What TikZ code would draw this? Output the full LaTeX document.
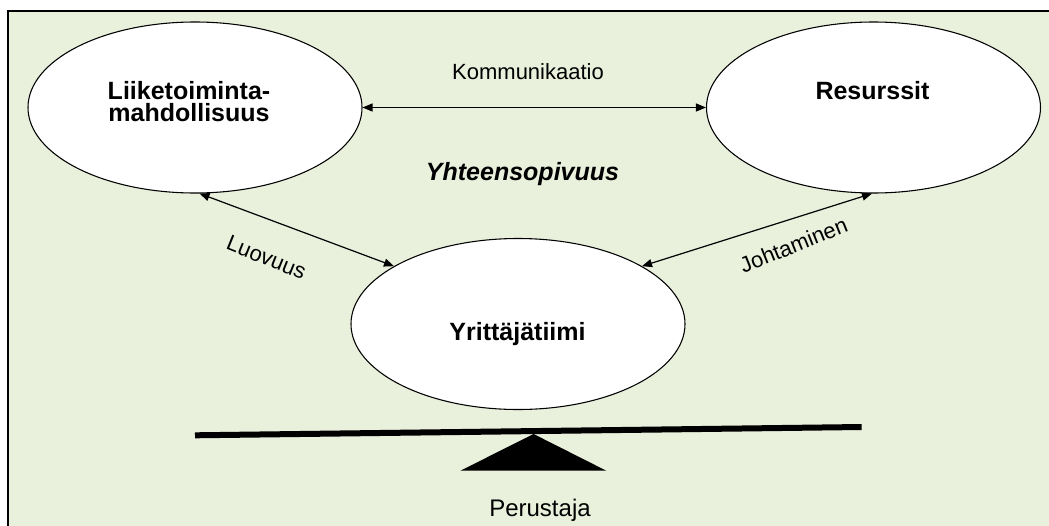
\documentclass[tikz,border=0pt]{standalone}
\usepackage{fontspec}
\setmainfont{Liberation Sans}
\usetikzlibrary{shapes.geometric,arrows.meta}
\definecolor{panel}{RGB}{233,240,220}
\begin{document}
\begin{tikzpicture}[x=0.75pt,y=-0.75pt,
  bubble/.style={ellipse,draw=black,line width=0.8pt,fill=white,
    minimum width=250.5pt,minimum height=128.25pt,inner sep=0pt},
  title/.style={font=\fontsize{18.75}{16.5}\selectfont\bfseries,align=center,anchor=base,inner sep=0pt},
  caption/.style={font=\fontsize{16.5}{19}\selectfont,inner sep=0pt},
  link/.style={line width=0.9pt,{Triangle[length=7.5pt,width=6pt]}-{Triangle[length=7.5pt,width=6pt]}}
]
\useasboundingbox (0,0) rectangle (1049,525);
\clip (0,0) rectangle (1049,525);
% framed panel
\draw[line width=1.5pt,fill=panel] (8,11) rectangle (1060,540);

% the three bubbles
\node[bubble] (L) at (195,107.5) {};
\node[bubble] (R) at (873.5,107.5) {};
\node[bubble] (Y) at (518,324) {};

\node[title] (Lt1) at (189,99.5) {Liiketoiminta-};
\node[title] (Lt2) at (189,121.7) {mahdollisuus};
\node[title] (Rt) at (872.5,99) {Resurssit};
\node[title] (Yt) at (517.5,340) {Yrittäjätiimi};

% connectors
\draw[link] (L.east) -- (R.west);
\draw[link] (L.273) -- (Y.155);
\draw[link] (R.269) -- (Y.25);

% connector captions
\node[caption,anchor=base] (kom) at (528,79.3) {Kommunikaatio};
\node[caption] (luo) at (266.5,257.5) [rotate=-22] {Luovuus};
\node[caption] (joh) at (793.5,245) [rotate=22] {Johtaminen};
\node[font=\fontsize{18.75}{20}\selectfont\bfseries\itshape,anchor=base,inner sep=0pt] (yht) at (522.5,180) {Yhteensopivuus};

% seesaw: beam and fulcrum
\draw[line width=4.5pt,line cap=butt] (195,435.3) -- (861.7,427);
\fill[black] (460.4,470.7) -- (533.6,434) -- (606.3,470.7) -- cycle;
\node[font=\fontsize{18}{20}\selectfont,anchor=base,inner sep=0pt] (per) at (540,516.7) {Perustaja};
\end{tikzpicture}
\end{document}
